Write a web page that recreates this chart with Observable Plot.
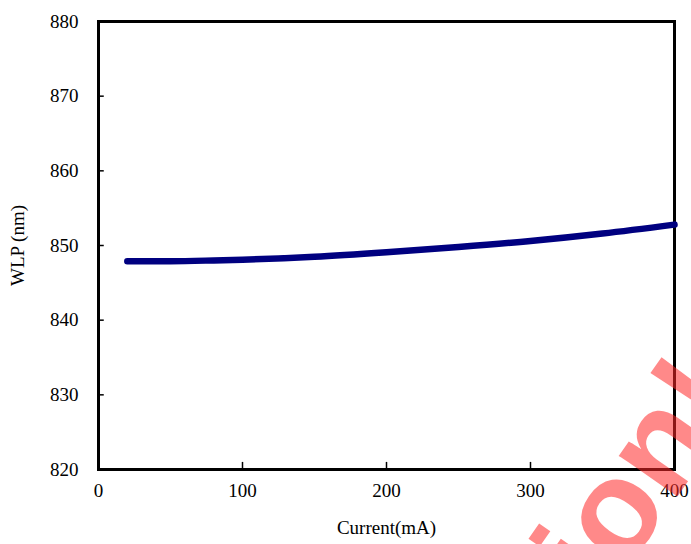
<!DOCTYPE html>
<html>
<head>
<meta charset="utf-8">
<script src="https://cdn.jsdelivr.net/npm/d3@7"></script>
<script src="https://cdn.jsdelivr.net/npm/@observablehq/plot@0.6"></script>
<style>
  html, body { margin: 0; padding: 0; background: #fff; }
  #wrap { position: relative; width: 691px; height: 544px; overflow: hidden; }
  #wm { position: absolute; left: 484px; top: 574px; transform-origin: 0 0; transform: rotate(-55deg);
        font: bold 135px "Liberation Sans", Arial, sans-serif; line-height: 1; color: rgba(255, 40, 40, 0.55);
        white-space: nowrap; pointer-events: none; }
</style>
</head>
<body>
<div id="wrap"><div id="wm">tion!</div></div>
<script>
const current = [20, 50, 80, 100, 150, 200, 250, 300, 350, 400];
const wlp = [847.9, 847.9, 848.0, 848.1, 848.5, 849.1, 849.8, 850.6, 851.6, 852.8];
const xTicks = [0, 100, 200, 300, 400];
const yTicks = [820, 830, 840, 850, 860, 870, 880];

const data = current.map((c, i) => ({current: c, wlp: wlp[i]}));

const chart = Plot.plot({
  width: 691,
  height: 544,
  marginLeft: 98,
  marginRight: 17,
  marginTop: 21,
  marginBottom: 75,
  style: {fontFamily: "'Liberation Serif', 'Times New Roman', serif", fontSize: "19px", color: "#000", background: "transparent"},
  x: {domain: [0, 400]},
  y: {domain: [820, 880]},
  marks: [
    Plot.axisX({ticks: xTicks, tickSize: 0, tickPadding: 14, label: "Current(mA)", labelAnchor: "center", labelArrow: "none", labelOffset: 64, fontSize: 19}),
    Plot.axisY({ticks: yTicks, tickSize: 0, tickPadding: 20, label: "WLP (nm)", labelAnchor: "center", labelArrow: "none", labelOffset: 88, fontSize: 19}),
    Plot.ruleX(xTicks, {x: d => d, y1: 820, y2: 820.95, stroke: "#000", strokeWidth: 1.5}),
    Plot.ruleY(yTicks, {y: d => d, x1: 0, x2: 4, stroke: "#000", strokeWidth: 1.5}),
    Plot.frame({stroke: "#000", strokeWidth: 3}),
    Plot.line(data, {x: "current", y: "wlp", curve: "monotone-x", stroke: "#000080", strokeWidth: 6.5, strokeLinecap: "round"})
  ]
});
document.getElementById("wrap").insertBefore(chart, document.getElementById("wm"));
</script>
</body>
</html>
